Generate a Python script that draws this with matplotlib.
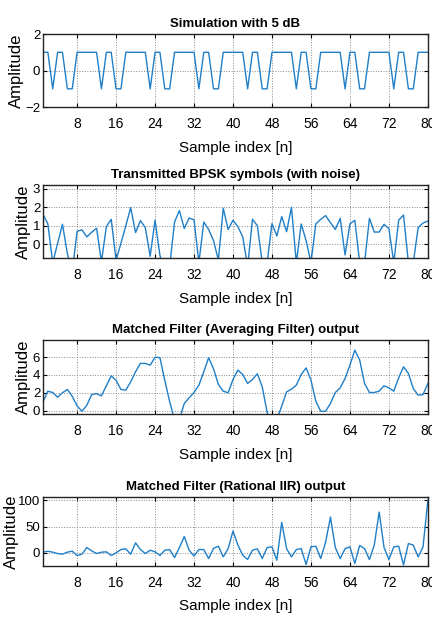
import numpy as np
import matplotlib
matplotlib.use('Agg')
import matplotlib.pyplot as plt

plt.rcParams['font.family'] = ['Liberation Sans', 'DejaVu Sans']

n = np.arange(1, 81)

# BPSK symbols (one period of 10 repeated across 80 samples)
sym = [1, 1, -1, 1, 1, -1, -1, 1, 1, 1,
       1, 1, -1, 1, 1, -1, -1, 1, 1, 1,
       1, 1, -1, 1, 1, -1, -1, 1, 1, 1,
       1, 1, -1, 1, 1, -1, -1, 1, 1, 1,
       1, 1, -1, 1, 1, -1, -1, 1, 1, 1,
       1, 1, -1, 1, 1, -1, -1, 1, 1, 1,
       1, 1, -1, 1, 1, -1, -1, 1, 1, 1,
       1, 1, -1, 1, 1, -1, -1, 1, 1, 1]

noisy = [1.62, 1.1, -1.0, 0.05, 1.08, -0.5, -1.5, 0.7, 0.78, 0.4,
         0.65, 0.87, -0.95, 0.95, 1.35, -0.85, 0.05, 1.0, 1.98, 0.63,
         1.28, 0.9, -0.65, 1.3, -0.6, -1.5, -1.2, 1.2, 1.82, 0.85,
         1.42, 1.32, -1.0, 1.2, 0.8, 0.2, -0.85, 1.95, 0.8, 1.3,
         0.95, 0.4, -1.2, 1.35, 1.0, -1.0, -1.0, 1.12, 0.45, 1.5,
         0.68, 2.0, -1.0, 1.1, 0.2, -1.0, 1.1, 1.35, 1.55, 1.17,
         0.8, 1.4, -0.58, 1.1, 1.3, -1.0, -1.0, 1.4, 0.66, 0.66,
         1.08, 0.84, -1.0, 1.3, 1.58, -1.0, -1.0, 0.9, 1.15, 1.25]

avg_out = [0.98, 2.18, 2.03, 1.5, 2.0, 2.37, 1.6, 0.53, -0.08, 0.6,
           1.8, 1.9, 1.65, 2.78, 3.9, 3.4, 2.37, 2.3, 3.23, 4.36,
           5.3, 5.3, 5.1, 6.0, 5.95, 3.4, 1.0, -1.0, -1.0, 0.8,
           1.43, 2.03, 2.86, 4.36, 5.94, 4.7, 2.93, 2.18, 2.0, 3.5,
           4.55, 4.05, 3.05, 3.5, 4.13, 2.67, -0.2, -1.5, -1.0, 0.5,
           2.1, 2.4, 2.86, 4.06, 4.8, 3.42, 1.05, -0.08, -0.08, 0.8,
           2.03, 2.55, 3.6, 5.1, 6.8, 5.68, 3.05, 2.03, 2.03, 2.18,
           2.78, 2.55, 2.18, 3.68, 4.92, 4.17, 2.48, 1.73, 1.8, 3.05]

iir_out = [1.3, 3, 1.3, -1.3, -2.5, 1.3, 3.2, -5, -2.5, 10,
           3.8, -1.3, 1.3, 1.9, -5, 0, 6.3, 7.6, -2.5, 19,
           6.3, -1.3, 5, 1.9, -5, 5, 6.3, -8.9, 10, 31,
           5, -6, 6.3, 6.3, -10.8, 8.5, 12.6, -7.6, 8, 41.5,
           15, -4.4, -12.5, 5, 7.6, -10.8, 10, 11.4, -14, 58,
           8, -7.6, 6.3, 8, -22, 11.4, 12.6, -10.8, 20, 68,
           10, -11, 8, 11.4, -20, 14, 8, -12.7, 15, 77.5,
           10, -12.7, 11.4, 12.6, -23, 17.7, 14.6, -7.6, 11.4, 100]

titles = ['Simulation with 5 dB',
          'Transmitted BPSK symbols (with noise)',
          'Matched Filter (Averaging Filter) output',
          'Matched Filter (Rational IIR) output']
series = [sym, noisy, avg_out, iir_out]
ylims = [(-2, 2), (-0.75, 3.2), (-0.4, 7.95), (-25, 106)]
yticks = [[-2, 0, 2], [0, 1, 2, 3], [0, 2, 4, 6], [0, 50, 100]]
# axes boxes [left, bottom, width, height] in figure fractions
boxes = [[0.0995, 0.827, 0.891, 0.118],
         [0.0995, 0.583, 0.891, 0.118],
         [0.0995, 0.331, 0.891, 0.120],
         [0.0995, 0.0856, 0.891, 0.1114]]
ylabel_x = [-0.05, -0.032, -0.032, -0.062]

line_color = '#1f7fc8'

fig = plt.figure(figsize=(4.32, 6.19), dpi=100)
for i in range(4):
    ax = fig.add_axes(boxes[i])
    ax.plot(n, series[i], color=line_color, linewidth=1.0)
    ax.set_xlim(1, 80)
    ax.set_ylim(*ylims[i])
    ax.set_xticks(np.arange(8, 81, 8))
    ax.set_yticks(yticks[i])
    ax.grid(True, linestyle=':', color='#888888', linewidth=0.7)
    ax.tick_params(direction='in', labelsize=10, length=3, top=True, right=True)
    ax.tick_params(axis='x', pad=7)
    ax.tick_params(axis='y', pad=2, labelsize=9.5)
    for sp in ax.spines.values():
        sp.set_linewidth(1.0)
        sp.set_color('#222222')
    ax.set_title(titles[i], fontsize=9.5, fontweight='bold', pad=5)
    ax.set_xlabel('Sample index [n]', fontsize=11, labelpad=7)
    ax.set_ylabel('Amplitude', fontsize=12)
    ax.yaxis.set_label_coords(ylabel_x[i], 0.5)

fig.savefig('out.png', dpi=100)
